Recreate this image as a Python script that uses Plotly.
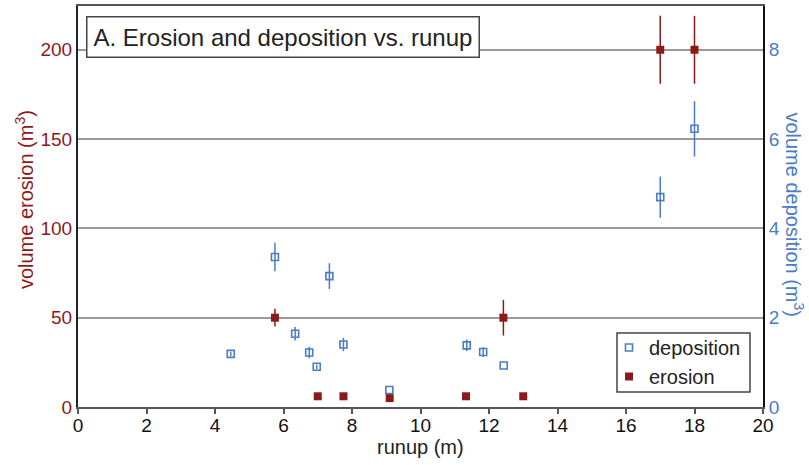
import plotly.graph_objects as go

# Erosion (left axis, m^3)
ero_x = [5.75, 7.0, 7.75, 9.1, 11.33, 12.42, 13.0, 17.0, 18.0]
ero_y = [50, 6, 6, 5, 6, 50, 6, 200, 200]
ero_err = [5, 0, 0, 0, 0, 10, 0, 19, 19]

# Deposition (right axis, m^3)
dep_x = [4.46, 5.75, 6.34, 6.75, 6.97, 7.34, 7.75, 9.09, 11.35, 11.83, 12.43, 17.0, 18.0]
dep_y = [1.19, 3.36, 1.64, 1.22, 0.90, 2.93, 1.40, 0.38, 1.38, 1.23, 0.93, 4.70, 6.23]
dep_err = [0.05, 0.32, 0.15, 0.13, 0.05, 0.29, 0.15, 0.0, 0.13, 0.11, 0.0, 0.46, 0.62]

x_ticks = [0, 2, 4, 6, 8, 10, 12, 14, 16, 18, 20]
left_ticks = [0, 50, 100, 150, 200]
right_ticks = [0, 2, 4, 6, 8]

RED = "#8B1A1A"
BLUE = "#4A7CC7"
FONT = "Liberation Sans, Arial, sans-serif"

fig = go.Figure()
fig.add_trace(go.Scatter(
    x=dep_x, y=dep_y, yaxis="y2", mode="markers", name="deposition",
    marker=dict(symbol="square-open", size=7, color=BLUE, line=dict(width=1.6, color=BLUE)),
    error_y=dict(type="data", array=dep_err, visible=True, color=BLUE, thickness=1.5, width=0),
))
fig.add_trace(go.Scatter(
    x=ero_x, y=ero_y, mode="markers", name="erosion",
    marker=dict(symbol="square", size=8, color=RED),
    error_y=dict(type="data", array=ero_err, visible=True, color=RED, thickness=1.5, width=0),
))

fig.update_layout(
    width=809, height=465,
    margin=dict(l=78, r=46, t=6, b=58, autoexpand=False),
    paper_bgcolor="white", plot_bgcolor="white",
    font=dict(family=FONT, size=19, color="#222"),
    showlegend=True,
    legend=dict(
        x=(609 - 78) / 685, y=(407 - 328) / 401, xanchor="left", yanchor="top",
        borderwidth=0, bgcolor="rgba(0,0,0,0)",
        font=dict(size=20, color="#222"), tracegroupgap=0,
        itemwidth=30,
    ),
    xaxis=dict(
        range=[0, 20], tickvals=x_ticks, ticks="outside", ticklen=5, tickwidth=1.5,
        tickcolor="#555", showline=True, linecolor="#555", linewidth=2, mirror=True,
        showgrid=False, zeroline=False, tickfont=dict(size=19, color="#111"),
        automargin=False, ticklabelstandoff=-5,
    ),
    yaxis=dict(
        range=[0, 224.5], tickvals=left_ticks, ticks="", showline=True,
        linecolor="#222", linewidth=2, showgrid=True, gridcolor="#9a9a9a", gridwidth=2,
        zeroline=False, tickfont=dict(size=19, color=RED), automargin=False,
    ),
    yaxis2=dict(
        range=[0, 8.98], tickvals=right_ticks, overlaying="y", side="right",
        showline=True, linecolor="#111", linewidth=2, showgrid=False, zeroline=False,
        tickfont=dict(size=19, color=BLUE), ticks="", automargin=False,
    ),
    shapes=[
        dict(type="rect", xref="paper", yref="paper",
             x0=(617 - 78) / 685, x1=(750 - 78) / 685,
             y0=(407 - 392) / 401, y1=(407 - 333) / 401,
             line=dict(color="#444", width=1.5), fillcolor="white", layer="below"),
    ],
    annotations=[
        dict(text="A. Erosion and deposition vs. runup", xref="paper", yref="paper",
             x=0.0117, y=0.975, xanchor="left", yanchor="top", showarrow=False,
             font=dict(size=24, color="#222"), bordercolor="#444", borderwidth=1.5,
             borderpad=6, bgcolor="white"),
        dict(text="runup (m)", xref="paper", yref="paper", x=0.5, y=-0.1,
             xanchor="center", yanchor="middle", showarrow=False,
             font=dict(size=20, color="#222")),
        dict(text="volume erosion (m<sup>3</sup>)", xref="paper", yref="paper",
             x=-0.0788, y=0.516, xanchor="center", yanchor="middle", showarrow=False,
             textangle=-90, font=dict(size=20, color=RED)),
        dict(text="volume deposition (m<sup>3</sup>)", xref="paper", yref="paper",
             x=1.046, y=0.479, xanchor="center", yanchor="middle", showarrow=False,
             textangle=90, font=dict(size=20, color=BLUE)),
    ],
)

fig.write_html("out.html", config={"displayModeBar": False},
               post_script="document.body.style.margin='0';")
